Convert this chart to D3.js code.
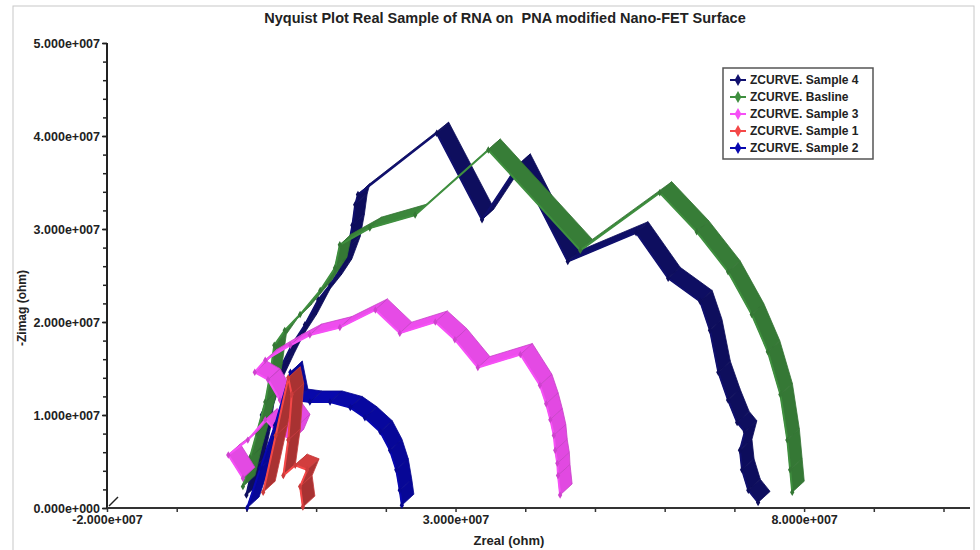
<!DOCTYPE html>
<html>
<head>
<meta charset="utf-8">
<script src="https://cdn.jsdelivr.net/npm/d3@7"></script>
<style>
  body { margin: 0; background: #fff; }
  svg { font-family: "Liberation Sans", Arial, sans-serif; }
</style>
</head>
<body>
<svg id="chart" width="980" height="550"></svg>
<script>
// values are in units of 1e7 ohm
var UNIT = 1e7;

var sample4Re = [0.00, 0.08, 0.17, 0.22, 0.34, 0.51, 0.65, 0.84, 1.03, 1.20, 1.34, 1.46, 1.52, 1.56, 1.60, 2.73, 3.38, 3.90, 4.61, 5.59, 6.05, 6.51, 6.65, 6.77, 6.91, 7.04, 7.15, 7.08, 7.11, 7.20, 7.34];
var sample4Im = [0.14, 0.41, 0.73, 1.00, 1.27, 1.54, 1.75, 1.97, 2.24, 2.40, 2.56, 2.80, 3.04, 3.26, 3.37, 4.03, 3.10, 3.69, 2.65, 2.96, 2.47, 2.22, 1.91, 1.46, 1.16, 0.92, 0.82, 0.62, 0.41, 0.19, 0.06];

var baslineRe = [-0.05, 0.05, 0.15, 0.27, 0.34, 0.40, 0.55, 0.77, 1.06, 1.27, 1.34, 1.77, 2.42, 3.47, 4.79, 5.93, 6.46, 6.91, 7.25, 7.48, 7.66, 7.76, 7.80, 7.83];
var baslineIm = [0.23, 0.54, 0.81, 1.14, 1.43, 1.75, 1.91, 2.08, 2.34, 2.58, 2.83, 3.01, 3.15, 3.85, 2.77, 3.39, 2.97, 2.54, 2.08, 1.68, 1.22, 0.73, 0.41, 0.17];

var sample3Re = [-0.05, -0.26, 0.02, 0.27, 0.41, 0.65, 0.74, 0.48, 0.31, 0.12, 0.27, 0.63, 0.91, 1.34, 1.85, 2.20, 2.71, 2.99, 3.32, 3.93, 4.21, 4.30, 4.36, 4.41, 4.43, 4.46, 4.47, 4.50];
var sample3Im = [0.32, 0.57, 0.73, 0.95, 0.84, 0.73, 0.89, 1.16, 1.38, 1.46, 1.59, 1.75, 1.86, 1.94, 2.13, 1.88, 2.00, 1.81, 1.51, 1.65, 1.32, 1.12, 0.95, 0.78, 0.62, 0.48, 0.35, 0.14];

var sample1Re = [0.24, 0.42, 0.60, 0.65, 0.60, 0.53, 0.70, 0.87, 0.77, 0.81];
var sample1Im = [0.17, 0.78, 1.40, 1.22, 0.73, 0.35, 0.46, 0.41, 0.23, 0.01];

var sample2Re = [0.01, 0.20, 0.41, 0.63, 0.71, 0.91, 1.20, 1.49, 1.70, 1.92, 2.06, 2.15, 2.20, 2.23];
var sample2Im = [0.00, 0.43, 0.89, 1.46, 1.16, 1.14, 1.14, 1.08, 0.97, 0.82, 0.62, 0.41, 0.19, 0.03];

var seriesNames = ["ZCURVE. Sample 4", "ZCURVE. Basline", "ZCURVE. Sample 3", "ZCURVE. Sample 1", "ZCURVE. Sample 2"];
var seriesColors = ["#10106e", "#3f8f3f", "#f650f6", "#f44848", "#0808b0"];
// how much the steep ribbon faces get shaded, per series
var seriesShade = [0.45, 0.45, 0.2, 1.0, 0.4];
var seriesRe = [sample4Re, baslineRe, sample3Re, sample1Re, sample2Re];
var seriesIm = [sample4Im, baslineIm, sample3Im, sample1Im, sample2Im];
var drawOrder = [0, 1, 2, 4, 3];

var yMajor = [0, 1, 2, 3, 4, 5];
var xMajor = [-2, 3, 8];

var svg = d3.select("#chart");

// outer frame
svg.append("rect")
  .attr("x", 13).attr("y", 6)
  .attr("width", 961).attr("height", 560)
  .attr("fill", "#fff")
  .attr("stroke", "#c8c8c8");

var xScale = d3.scaleLinear().domain([-2e7, 1.038e8]).range([107, 970]);
var yScale = d3.scaleLinear().domain([0, 5e7]).range([508, 43]);

function sci(v) {
  if (v === 0) return "0.000e+000";
  return (v / UNIT).toFixed(3) + "e+007";
}

// title
svg.append("text")
  .attr("x", 505).attr("y", 23)
  .attr("text-anchor", "middle")
  .style("font-size", "14.5px").style("font-weight", "bold")
  .attr("fill", "#222")
  .attr("xml:space", "preserve")
  .text("Nyquist Plot Real Sample of RNA on  PNA modified Nano-FET Surface");

// y axis
var yMinor = d3.range(0, 50.01, 2).map(function (d) { return d * 1e6; });
svg.append("g")
  .attr("class", "axis")
  .attr("transform", "translate(107,0)")
  .call(d3.axisLeft(yScale).tickValues(yMinor).tickSize(4).tickFormat(""))
  .call(function (g) { g.select(".domain").remove(); })
  .selectAll("line").attr("stroke", "#222").attr("stroke-width", 1.5);

svg.append("g")
  .attr("class", "axis")
  .attr("transform", "translate(107,0)")
  .call(d3.axisLeft(yScale).tickValues(yMajor.map(function (d) { return d * UNIT; })).tickSize(5).tickPadding(2).tickFormat(sci))
  .call(function (g) {
    g.select(".domain").attr("stroke", "#222").attr("stroke-width", 2).attr("d", "M0,508V43");
    g.selectAll("line").attr("stroke", "#222").attr("stroke-width", 1.5);
    g.selectAll("text").style("font-size", "12.5px").style("font-weight", "bold").attr("fill", "#222");
  });

// x axis
var xTicks = d3.range(-2, 10.01, 1).map(function (d) { return d * UNIT; });
svg.append("g")
  .attr("class", "axis")
  .attr("transform", "translate(0,508)")
  .call(d3.axisBottom(xScale).tickValues(xTicks).tickSize(4).tickPadding(3)
    .tickFormat(function (d) { return xMajor.indexOf(Math.round(d / UNIT)) >= 0 ? sci(d) : ""; }))
  .call(function (g) {
    g.select(".domain").attr("stroke", "#333").attr("stroke-width", 2).attr("d", "M107,0H970");
    g.selectAll("line").attr("stroke", "#333").attr("stroke-width", 1.5);
    g.selectAll("text").style("font-size", "12.5px").style("font-weight", "bold").attr("fill", "#222");
  });

// axis break mark
svg.append("line")
  .attr("x1", 109).attr("y1", 506).attr("x2", 118).attr("y2", 497)
  .attr("stroke", "#222").attr("stroke-width", 1.5);

// axis titles
svg.append("text")
  .attr("x", 509).attr("y", 545)
  .attr("text-anchor", "middle")
  .style("font-size", "13px").style("font-weight", "bold").attr("fill", "#222")
  .text("Zreal (ohm)");

svg.append("text")
  .attr("transform", "translate(26,308) rotate(-90)")
  .attr("text-anchor", "middle")
  .style("font-size", "12px").style("font-weight", "bold").attr("fill", "#222")
  .text("-Zimag (ohm)");

// curves drawn as 3D ribbons
var off = [12, -11];
var plot = svg.append("g");

drawOrder.forEach(function (s) {
  var color = seriesColors[s];
  var pts = seriesRe[s].map(function (re, i) {
    return [xScale(re * UNIT), yScale(seriesIm[s][i] * UNIT)];
  });
  var segs = d3.pairs(pts);
  var g = plot.append("g").attr("class", "series");

  g.selectAll(".ribbon")
    .data(segs)
    .enter()
    .append("polygon")
    .attr("class", "ribbon")
    .attr("points", function (d) {
      var a = d[0], b = d[1];
      return [a, b, [b[0] + off[0], b[1] + off[1]], [a[0] + off[0], a[1] + off[1]]]
        .map(function (p) { return p.join(","); }).join(" ");
    })
    .attr("fill", function (d) {
      var dx = d[1][0] - d[0][0], dy = d[1][1] - d[0][1];
      var len = Math.sqrt(dx * dx + dy * dy) || 1;
      var steep = Math.abs(dy) / len;
      return d3.color(color).darker(0.05 + seriesShade[s] * steep);
    })
    .attr("stroke", d3.color(color).darker(0.6))
    .attr("stroke-width", 0.8)
    .attr("stroke-linejoin", "round");

  g.append("path")
    .datum(pts)
    .attr("d", d3.line())
    .attr("fill", "none")
    .attr("stroke", color)
    .attr("stroke-width", 2);

  g.selectAll(".mark")
    .data(pts)
    .enter()
    .append("path")
    .attr("class", "mark")
    .attr("d", d3.symbol(d3.symbolDiamond, 16))
    .attr("transform", function (d) { return "translate(" + d[0] + "," + d[1] + ")"; })
    .attr("fill", d3.color(color).darker(0.5));
});

// legend
var legend = svg.append("g").attr("transform", "translate(723,68)");
legend.append("rect")
  .attr("width", 150).attr("height", 91)
  .attr("fill", "#fff")
  .attr("stroke", "#555").attr("stroke-width", 1.5);

var rows = legend.selectAll(".row")
  .data(seriesNames)
  .enter()
  .append("g")
  .attr("class", "row")
  .attr("transform", function (d, i) { return "translate(0," + (12 + i * 17) + ")"; });

rows.append("line")
  .attr("x1", 7).attr("x2", 23)
  .attr("stroke", function (d, i) { return seriesColors[i]; })
  .attr("stroke-width", 2);

rows.append("path")
  .attr("d", d3.symbol(d3.symbolDiamond, 40))
  .attr("transform", "translate(15,0)")
  .attr("fill", function (d, i) { return seriesColors[i]; });

rows.append("text")
  .attr("x", 27).attr("y", 4)
  .style("font-size", "12px").style("font-weight", "bold").attr("fill", "#222")
  .text(function (d) { return d; });
</script>
</body>
</html>
